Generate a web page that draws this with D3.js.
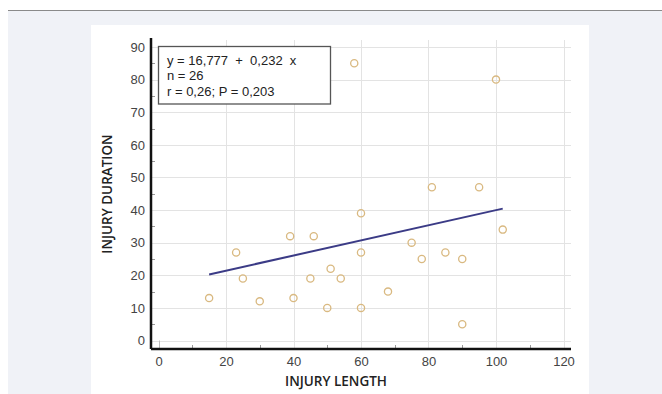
<!DOCTYPE html>
<html>
<head>
<meta charset="utf-8">
<script src="https://cdn.jsdelivr.net/npm/d3@7/dist/d3.min.js"></script>
<style>
  html, body { margin: 0; padding: 0; background: #fff; }
  svg { display: block; }
</style>
</head>
<body>
<div id="chart"></div>
<script>
// injury length (x) vs injury duration (y)
const lengths   = [15, 23, 25, 30, 39, 40, 45, 46, 50, 51, 54, 58, 60, 60, 60, 68, 75, 78, 81, 85, 90, 90, 95, 100, 102];
const durations = [13, 27, 19, 12, 32, 13, 19, 32, 10, 22, 19, 85, 39, 27, 10, 15, 30, 25, 47, 27, 25, 5, 47, 80, 34];
const xTicks = [0, 20, 40, 60, 80, 100, 120];
const yTicks = [0, 10, 20, 30, 40, 50, 60, 70, 80, 90];
const intercept = 16.777, slope = 0.232;
const fitRange = [15, 102];
const statLines = ['y = 16,777  +  0,232  x', 'n = 26', 'r = 0,26; P = 0,203'];

const W = 662, H = 394;
const svg = d3.select('#chart').append('svg').attr('width', W).attr('height', H);

// page background + white panel
svg.append('rect').attr('x', 8).attr('y', 10).attr('width', W - 8).attr('height', H - 10).attr('fill', '#f0f2f7');
svg.append('line').attr('x1', 8).attr('x2', W).attr('y1', 10.5).attr('y2', 10.5).attr('stroke', '#8a8a8a').attr('stroke-width', 1.2);
svg.append('rect').attr('x', 91).attr('y', 25).attr('width', 498).attr('height', H - 25).attr('fill', '#fff');

const x = d3.scaleLinear().domain([0, 120]).range([158.5, 563.5]);
const y = d3.scaleLinear().domain([0, 90]).range([340.5, 47]);
const axX = 151, axY = 349, gridTop = 40, gridRight = 571;
const tickFont = "'Liberation Sans', Arial, sans-serif";

// grid
const grid = svg.append('g').attr('stroke', '#e3e3e3').attr('stroke-width', 1);
grid.selectAll('.gy').data(yTicks).enter().append('line')
  .attr('x1', axX).attr('x2', gridRight)
  .attr('y1', d => Math.round(y(d)) + 0.5).attr('y2', d => Math.round(y(d)) + 0.5);
grid.selectAll('.gx').data(xTicks).enter().append('line')
  .attr('x1', d => Math.round(x(d)) + 0.5).attr('x2', d => Math.round(x(d)) + 0.5)
  .attr('y1', d => d === 0 ? y(0) : gridTop).attr('y2', axY)
  .attr('stroke', d => d === 0 ? '#bbb' : '#e3e3e3');

// minor ticks
const minor = svg.append('g').attr('stroke', '#999').attr('stroke-width', 1);
minor.selectAll('.mx').data(d3.range(10, 121, 20)).enter().append('line')
  .attr('x1', d => Math.round(x(d)) + 0.5).attr('x2', d => Math.round(x(d)) + 0.5)
  .attr('y1', axY - 4).attr('y2', axY);
minor.selectAll('.my').data(d3.range(5, 91, 10)).enter().append('line')
  .attr('x1', axX).attr('x2', axX + 4)
  .attr('y1', d => Math.round(y(d)) + 0.5).attr('y2', d => Math.round(y(d)) + 0.5);

// axes
const xAxis = svg.append('g').attr('transform', `translate(0,${axY})`)
  .call(d3.axisBottom(x).tickValues(xTicks).tickSize(0).tickPadding(8));
const yAxis = svg.append('g').attr('transform', `translate(${axX},0)`)
  .call(d3.axisLeft(y).tickValues(yTicks).tickSize(0).tickPadding(6));
[xAxis, yAxis].forEach(a => {
  a.select('.domain').remove();
  a.selectAll('text').attr('fill', '#444').style('font-family', tickFont).style('font-size', '13px');
});
svg.append('line').attr('x1', axX).attr('x2', gridRight).attr('y1', axY).attr('y2', axY).attr('stroke', '#111').attr('stroke-width', 2.5);
svg.append('line').attr('x1', axX).attr('x2', axX).attr('y1', 38).attr('y2', axY).attr('stroke', '#111').attr('stroke-width', 2.5);

// regression line
svg.append('line')
  .attr('x1', x(fitRange[0])).attr('y1', y(intercept + slope * fitRange[0]))
  .attr('x2', x(fitRange[1])).attr('y2', y(intercept + slope * fitRange[1]))
  .attr('stroke', '#3b3b86').attr('stroke-width', 2);

// points
svg.selectAll('.pt').data(lengths.map((v, i) => [v, durations[i]])).enter().append('circle')
  .attr('cx', d => x(d[0])).attr('cy', d => y(d[1])).attr('r', 3.6)
  .attr('fill', 'none').attr('stroke', '#d9b981').attr('stroke-width', 1.3);

// stats box
svg.append('rect').attr('x', 158.5).attr('y', 46.5).attr('width', 172).attr('height', 57.5)
  .attr('fill', '#fff').attr('stroke', '#555').attr('stroke-width', 1.3);
svg.selectAll('.st').data(statLines).enter().append('text')
  .attr('x', 167).attr('y', (d, i) => 64.5 + i * 15.5)
  .attr('fill', '#222').attr('xml:space', 'preserve').style('white-space', 'pre')
  .style('font-family', tickFont).style('font-size', '13px')
  .text(d => d);

// axis titles
svg.append('text').attr('x', 336).attr('y', 386).attr('text-anchor', 'middle')
  .attr('fill', '#222').style('font-family', 'Open Sans, sans-serif').style('font-weight', 600).style('font-size', '13.5px')
  .text('INJURY LENGTH');
svg.append('text').attr('transform', 'translate(112,194) rotate(-90)').attr('text-anchor', 'middle')
  .attr('fill', '#222').style('font-family', 'Open Sans, sans-serif').style('font-weight', 600).style('font-size', '13.5px')
  .text('INJURY DURATION');
</script>
</body>
</html>
